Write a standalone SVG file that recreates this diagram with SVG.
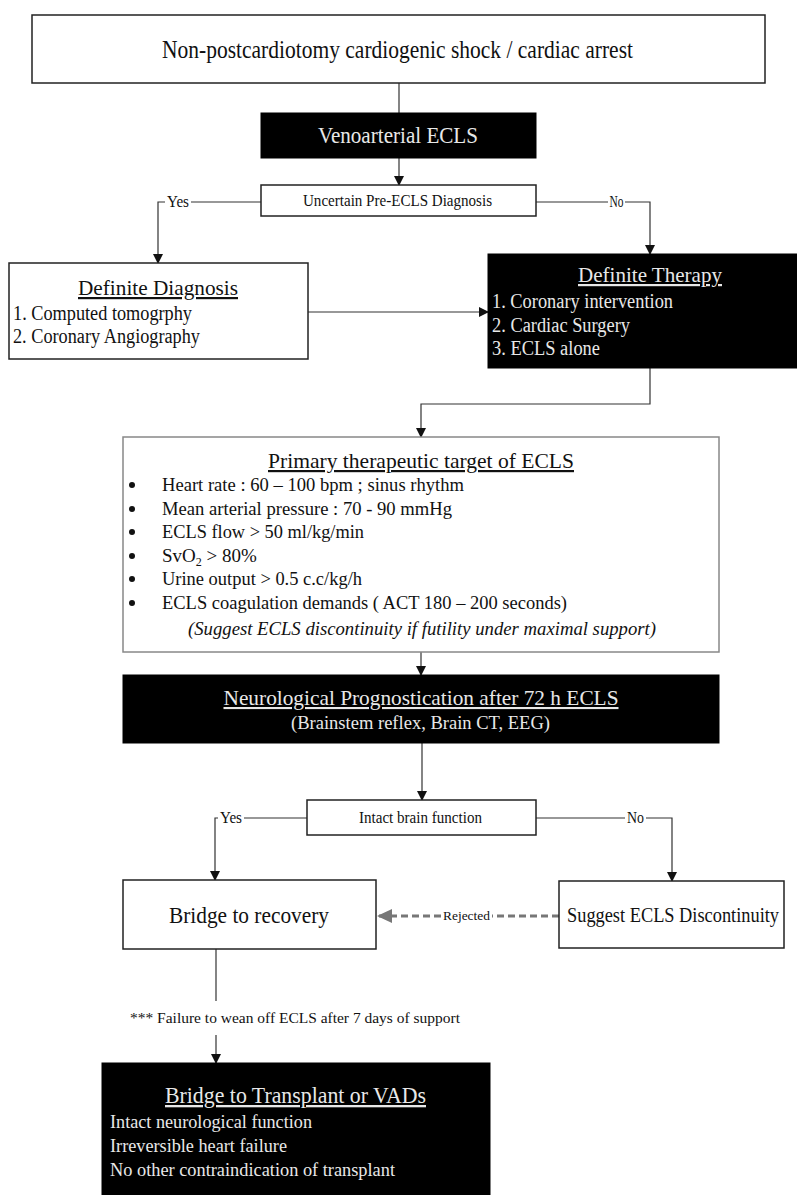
<svg xmlns="http://www.w3.org/2000/svg" width="797" height="1195" viewBox="0 0 797 1195">
<defs>
<marker id="ah" markerUnits="userSpaceOnUse" markerWidth="10" markerHeight="12" refX="9" refY="5" orient="auto">
<path d="M0,0 L10,5 L0,10 z" fill="#111"/>
</marker>
<marker id="ahg" markerUnits="userSpaceOnUse" markerWidth="16" markerHeight="16" refX="14" refY="7" orient="auto">
<path d="M0,0 L15,7 L0,14 z" fill="#777"/>
</marker>
<style>
text{font-family:"Liberation Serif","Times New Roman",serif;fill:#111}
.w{fill:#e8e8e8}
.box{fill:#fff;stroke:#222;stroke-width:1.5}
.gbox{fill:#fff;stroke:#888;stroke-width:1.5}
.blk{fill:#000;stroke:#000}
.c{fill:none;stroke:#333;stroke-width:1.2}
.c2{fill:none;stroke:#333;stroke-width:1.2;marker-end:url(#ah)}
.d{fill:none;stroke:#777;stroke-width:3;stroke-dasharray:7,4}
.u{text-decoration:underline}
.dot{fill:#111}
</style>
</defs>

<g id="connectors">
<path class="c" d="M399,83 V113"/>
<path class="c2" d="M399,158 V185"/>
<path class="c" d="M261,202 H191"/>
<path class="c2" d="M165,202 H158 V263"/>
<path class="c" d="M536,202 H608"/>
<path class="c2" d="M625,202 H650 V254"/>
<path class="c2" d="M308,312 H488"/>
<path class="c2" d="M650,368 V404 H421 V437"/>
<path class="c2" d="M421,652 V675"/>
<path class="c2" d="M422,743 V800"/>
<path class="c" d="M307,818 H244"/>
<path class="c2" d="M218,818 H215 V880"/>
<path class="c" d="M536,818 H625"/>
<path class="c2" d="M646,818 H672 V881"/>
<path class="d" d="M559,916 H492"/>
<path class="d" d="M441,916 H378" style="marker-end:url(#ahg)"/>
<path class="c" d="M216,949 V1001"/>
<path class="c2" d="M216,1035 V1063"/>
<text x="178" y="207" font-size="16" text-anchor="middle" textLength="22" lengthAdjust="spacingAndGlyphs">Yes</text>
<text x="616.5" y="207" font-size="16" text-anchor="middle" textLength="14" lengthAdjust="spacingAndGlyphs">No</text>
<text x="231" y="823" font-size="16" text-anchor="middle" textLength="22" lengthAdjust="spacingAndGlyphs">Yes</text>
<text x="635.5" y="823" font-size="16" text-anchor="middle" textLength="17" lengthAdjust="spacingAndGlyphs">No</text>
<text x="466.5" y="920" font-size="12" text-anchor="middle" textLength="47" lengthAdjust="spacingAndGlyphs">Rejected</text>
<text x="130" y="1023" font-size="15" textLength="330" lengthAdjust="spacingAndGlyphs">***  Failure to wean off ECLS after 7 days of support</text>
</g>

<g id="start">
<rect class="box" x="32" y="15" width="733" height="68"/>
<text x="397.5" y="58" font-size="26" text-anchor="middle" textLength="471" lengthAdjust="spacingAndGlyphs">Non-postcardiotomy cardiogenic shock / cardiac arrest</text>
</g>

<g id="va-ecls">
<rect class="blk" x="261" y="113" width="275" height="45"/>
<text class="w" x="398" y="143" font-size="23" text-anchor="middle" textLength="160" lengthAdjust="spacingAndGlyphs">Venoarterial ECLS</text>
</g>

<g id="uncertain">
<rect class="box" x="261" y="185" width="275" height="31"/>
<text x="397.5" y="206" font-size="16" text-anchor="middle" textLength="189" lengthAdjust="spacingAndGlyphs">Uncertain Pre-ECLS Diagnosis</text>
</g>

<g id="diagnosis">
<rect class="box" x="9" y="263" width="299" height="96"/>
<text class="u" x="158" y="295" font-size="22" text-anchor="middle" textLength="160" lengthAdjust="spacingAndGlyphs">Definite Diagnosis</text>
<text x="13" y="320" font-size="20" textLength="179" lengthAdjust="spacingAndGlyphs">1. Computed tomogrphy</text>
<text x="13" y="343" font-size="20" textLength="187" lengthAdjust="spacingAndGlyphs">2. Coronary Angiography</text>
</g>

<g id="therapy">
<rect class="blk" x="488" y="254" width="309" height="114"/>
<text class="w u" x="650" y="282" font-size="22" text-anchor="middle" textLength="144" lengthAdjust="spacingAndGlyphs">Definite Therapy</text>
<text class="w" x="492" y="308" font-size="20" textLength="181" lengthAdjust="spacingAndGlyphs">1. Coronary intervention</text>
<text class="w" x="492" y="332" font-size="20" textLength="138" lengthAdjust="spacingAndGlyphs">2. Cardiac Surgery</text>
<text class="w" x="492" y="355" font-size="20" textLength="108" lengthAdjust="spacingAndGlyphs">3. ECLS alone</text>
</g>

<g id="primary">
<rect class="gbox" x="123" y="437" width="596" height="215"/>
<text class="u" x="421" y="468" font-size="22" text-anchor="middle" textLength="306" lengthAdjust="spacingAndGlyphs">Primary therapeutic target of ECLS</text>
<circle class="dot" cx="132" cy="485" r="3"/>
<circle class="dot" cx="132" cy="509" r="3"/>
<circle class="dot" cx="132" cy="532" r="3"/>
<circle class="dot" cx="132" cy="556" r="3"/>
<circle class="dot" cx="132" cy="579" r="3"/>
<circle class="dot" cx="132" cy="603" r="3"/>
<g font-size="19">
<text x="162" y="491" textLength="302" lengthAdjust="spacingAndGlyphs">Heart rate : 60 – 100 bpm ; sinus rhythm</text>
<text x="162" y="515" textLength="290" lengthAdjust="spacingAndGlyphs">Mean arterial pressure : 70 - 90 mmHg</text>
<text x="162" y="538" textLength="202" lengthAdjust="spacingAndGlyphs">ECLS flow &gt; 50 ml/kg/min</text>
<text x="162" y="562">SvO<tspan font-size="12" dy="4">2</tspan><tspan dy="-4"> &gt; 80%</tspan></text>
<text x="162" y="585" textLength="200" lengthAdjust="spacingAndGlyphs">Urine output &gt; 0.5 c.c/kg/h</text>
<text x="162" y="609" textLength="405" lengthAdjust="spacingAndGlyphs">ECLS coagulation demands ( ACT 180 – 200 seconds)</text>
<text x="188" y="635" font-style="italic" textLength="468" lengthAdjust="spacingAndGlyphs">(Suggest ECLS discontinuity if futility under maximal support)</text>
</g>
</g>

<g id="neuro">
<rect class="blk" x="123" y="675" width="596" height="68"/>
<text class="w u" x="421" y="705" font-size="21" text-anchor="middle" textLength="395" lengthAdjust="spacingAndGlyphs">Neurological Prognostication after 72 h ECLS</text>
<text class="w" x="420.5" y="729" font-size="19" text-anchor="middle" textLength="259" lengthAdjust="spacingAndGlyphs">(Brainstem reflex, Brain CT, EEG)</text>
</g>

<g id="intact">
<rect class="box" x="307" y="800" width="229" height="35"/>
<text x="420.5" y="823" font-size="16" text-anchor="middle" textLength="123" lengthAdjust="spacingAndGlyphs">Intact brain function</text>
</g>

<g id="recovery">
<rect class="box" x="123" y="880" width="253" height="69"/>
<text x="249" y="923" font-size="24" text-anchor="middle" textLength="160" lengthAdjust="spacingAndGlyphs">Bridge to recovery</text>
</g>

<g id="discontinuity">
<rect class="box" x="559" y="881" width="225" height="67"/>
<text x="673" y="922" font-size="20" text-anchor="middle" textLength="212" lengthAdjust="spacingAndGlyphs">Suggest ECLS Discontinuity</text>
</g>

<g id="transplant">
<rect class="blk" x="102" y="1063" width="388" height="140"/>
<text class="w u" x="295.5" y="1103" font-size="23" text-anchor="middle" textLength="261" lengthAdjust="spacingAndGlyphs">Bridge to Transplant or VADs</text>
<text class="w" x="110" y="1128" font-size="19" textLength="202" lengthAdjust="spacingAndGlyphs">Intact neurological function</text>
<text class="w" x="110" y="1152" font-size="19" textLength="177" lengthAdjust="spacingAndGlyphs">Irreversible heart failure</text>
<text class="w" x="110" y="1176" font-size="19" textLength="285" lengthAdjust="spacingAndGlyphs">No other contraindication of transplant</text>
</g>
</svg>
